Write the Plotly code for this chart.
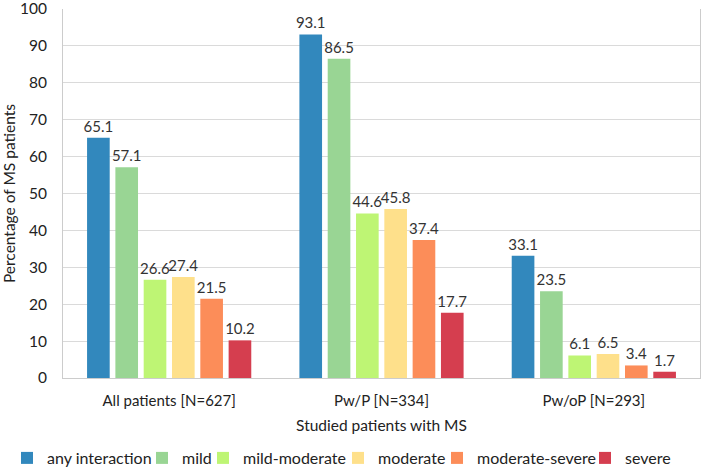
import plotly.graph_objects as go

categories = ["All patients [N=627]", "Pw/P [N=334]", "Pw/oP [N=293]"]
series_names = ["any interaction", "mild", "mild-moderate", "moderate", "moderate-severe", "severe"]
any_interaction = [65.1, 93.1, 33.1]
mild = [57.1, 86.5, 23.5]
mild_moderate = [26.6, 44.6, 6.1]
moderate = [27.4, 45.8, 6.5]
moderate_severe = [21.5, 37.4, 3.4]
severe = [10.2, 17.7, 1.7]
series_values = [any_interaction, mild, mild_moderate, moderate, moderate_severe, severe]
y_ticks = [0, 10, 20, 30, 40, 50, 60, 70, 80, 90, 100]
colors = ["#3288bd", "#99d594", "#bef574", "#fee08b", "#fc8d59", "#d53e4f"]

# left pixel of each legend entry's text (one legend per series, laid out in a row)
legend_text_left = [47, 182, 243, 378, 477, 625]

W, H = 704, 468
font = "Lato"
fig = go.Figure()
legend_ids = ["legend", "legend2", "legend3", "legend4", "legend5", "legend6"]
for name, vals, c, lid in zip(series_names, series_values, colors, legend_ids):
    fig.add_trace(go.Bar(
        x=categories, y=vals, name=name, marker_color=c, marker_line_width=0,
        text=[f"{v:.1f}" for v in vals], textposition="outside",
        textfont=dict(size=15, color="#333333", family=font), cliponaxis=False,
        constraintext="none", legend=lid,
    ))

layout_legends = {}
for lid, tx in zip(legend_ids, legend_text_left):
    layout_legends[lid] = dict(
        orientation="h", xref="container", yref="container",
        x=(tx - 40) / W, xanchor="left", y=(H - 458) / H, yanchor="middle",
        font=dict(size=16, color="#222222", family=font),
        bgcolor="rgba(0,0,0,0)", borderwidth=0, itemwidth=30,
    )

fig.update_layout(
    width=W, height=H,
    margin=dict(l=63, r=4, t=9, b=90, autoexpand=False),
    paper_bgcolor="white", plot_bgcolor="white",
    barmode="group", bargap=0.2, bargroupgap=0.2,
    font=dict(family=font, size=15, color="#333333"),
    showlegend=True,
    **layout_legends,
)
fig.update_xaxes(
    title=dict(text="Studied patients with MS", font=dict(size=15.5, color="#222222"), standoff=12),
    showline=True, linecolor="#cccccc", linewidth=1, ticks="",
    tickfont=dict(size=15, color="#222222"), automargin=False, ticklabelstandoff=9,
)
fig.update_yaxes(
    title=dict(text="Percentage of MS patients", font=dict(size=15.5, color="#222222"), standoff=12),
    range=[0, 100.001], tickvals=y_ticks, ticklabeloverflow="allow",
    showgrid=True, gridcolor="#dadada", gridwidth=1,
    showline=True, linecolor="#cccccc", linewidth=1, mirror=True, zeroline=False,
    tickfont=dict(size=15.5, color="#222222"), ticks="", automargin=False, ticklabelstandoff=12,
)
fig.write_html("out.html", config={"displayModeBar": False},
               post_script="document.body.style.margin='0';")
